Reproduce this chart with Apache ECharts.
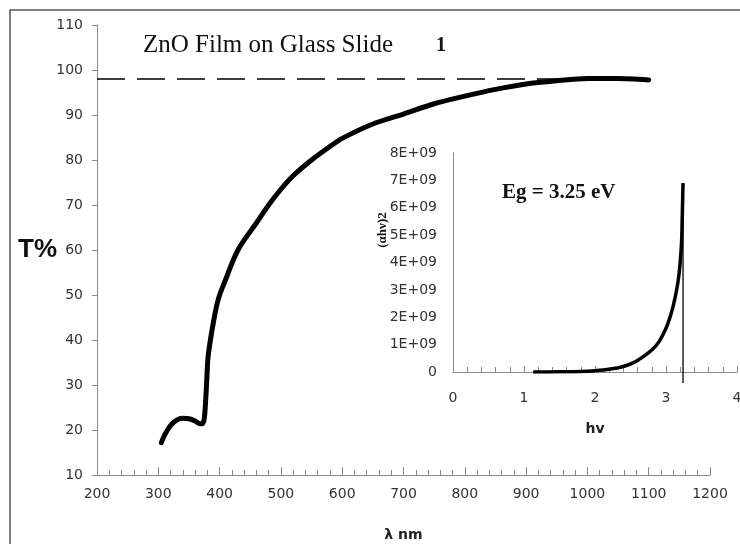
<!DOCTYPE html>
<html><head><meta charset="utf-8">
<script src="https://cdn.jsdelivr.net/npm/echarts@6/dist/echarts.min.js"></script>
<style>html,body{margin:0;padding:0;background:#fff}#c{width:740px;height:544px}</style>
</head><body><div id="c"></div>
<script>
// Main spectrum: wavelength (nm) vs transmittance (%)
const wavelength = [305,310,320,330,340,350,360,368,372,375,377,379,381,385,390,395,400,410,420,430,440,460,480,500,520,550,580,600,650,700,750,800,850,900,950,1000,1050,1100];
const transmittance = [17.2,18.8,21.0,22.2,22.6,22.5,22.0,21.4,21.4,22.5,26,31,36,40,44,47.5,50,53.5,57,60,62.2,66,70,73.5,76.5,80,83,84.8,88,90.2,92.5,94.2,95.7,96.9,97.6,98.1,98.1,97.8];
const dashedX = [200, 1100];
const dashedT = 98;
// Inset: photon energy (eV) vs (alpha h nu)^2
const photonEnergy = [1.13,1.5,1.8,2.0,2.2,2.4,2.55,2.7,2.8,2.9,3.0,3.05,3.1,3.15,3.18,3.2,3.22,3.23,3.24];
const alphaHvSq = [0,0.005e9,0.02e9,0.05e9,0.1e9,0.2e9,0.35e9,0.6e9,0.8e9,1.1e9,1.6e9,1.95e9,2.4e9,3.0e9,3.5e9,4.0e9,4.8e9,5.8e9,6.9e9];
const egValue = 3.24;
const egLineY = [-0.4e9, 6.9e9];
// Axis ranges
const mainX = {min:200, max:1200, interval:100};
const mainY = {min:10, max:110, interval:10};
const insetX = {min:0, max:4, interval:1};
const insetY = {min:0, max:8e9, interval:1e9};

const chart = echarts.init(document.getElementById('c'), null, {renderer:'canvas'});
const labelStyle = {color:'#333', fontSize:14, fontFamily:'DejaVu Sans'};
const axisLine = {lineStyle:{color:'#8a8a8a', width:1}};
chart.setOption({
  animation:false,
  backgroundColor:'#fff',
  grid:[
    {left:97, right:30, top:25, bottom:69, outerBoundsMode:'none', containLabel:false},
    {left:453, right:3, top:153, bottom:172, outerBoundsMode:'none', containLabel:false}
  ],
  xAxis:[
    {gridIndex:0, type:'value', min:mainX.min, max:mainX.max, interval:mainX.interval,
     axisLine:axisLine, splitLine:{show:false},
     axisTick:{inside:true, length:8, lineStyle:{color:'#8a8a8a'}},
     minorTick:{show:true, splitNumber:5, length:5, lineStyle:{color:'#8a8a8a'}},
     axisLabel:Object.assign({margin:12, formatter:v => String(v)}, labelStyle),
     name:'λ nm', nameLocation:'middle', nameGap:53, nameMoveOverlap:false,
     nameTextStyle:{fontSize:14, fontWeight:'bold', color:'#222', fontFamily:'DejaVu Sans'}},
    {gridIndex:1, type:'value', min:insetX.min, max:insetX.max, interval:insetX.interval,
     axisLine:axisLine, splitLine:{show:false},
     axisTick:{inside:true, length:6, lineStyle:{color:'#8a8a8a'}},
     minorTick:{show:true, splitNumber:5, length:5, lineStyle:{color:'#8a8a8a'}},
     axisLabel:Object.assign({margin:19, formatter:v => String(v)}, labelStyle),
     name:'hv', nameLocation:'middle', nameGap:50, nameMoveOverlap:false,
     nameTextStyle:{fontSize:14, fontWeight:'bold', color:'#222', fontFamily:'DejaVu Sans'}}
  ],
  yAxis:[
    {gridIndex:0, type:'value', min:mainY.min, max:mainY.max, interval:mainY.interval,
     axisLine:Object.assign({show:true}, axisLine), splitLine:{show:false},
     axisTick:{show:true, length:5, lineStyle:{color:'#8a8a8a'}},
     axisLabel:Object.assign({margin:14}, labelStyle),
     name:'T%', nameLocation:'middle', nameRotate:0, nameGap:40, nameMoveOverlap:false,
     nameTextStyle:{fontSize:26, fontWeight:'bold', color:'#111', fontFamily:'Liberation Sans', align:'right', verticalAlign:'middle'}},
    {gridIndex:1, type:'value', min:insetY.min, max:insetY.max, interval:insetY.interval,
     axisLine:Object.assign({show:true}, axisLine), splitLine:{show:false},
     axisTick:{show:false},
     axisLabel:Object.assign({margin:16, formatter:v => v===0 ? '0' : Math.round(v/1e9)+'E+09'}, labelStyle)}
  ],
  series:[
    {type:'line', xAxisIndex:0, yAxisIndex:0, data:dashedX.map(x=>[x,dashedT]),
     symbol:'none', lineStyle:{color:'#000', width:1.5, type:[28,12]}, z:1},
    {type:'line', xAxisIndex:0, yAxisIndex:0, data:wavelength.map((x,i)=>[x,transmittance[i]]),
     symbol:'none', smooth:0.25, lineStyle:{color:'#000', width:5, cap:'round', join:'round'}, z:2},
    {type:'line', xAxisIndex:1, yAxisIndex:1, data:photonEnergy.map((x,i)=>[x,alphaHvSq[i]]),
     symbol:'none', smooth:0.25, lineStyle:{color:'#000', width:3.5, join:'round'}, z:2},
    {type:'line', xAxisIndex:1, yAxisIndex:1, data:egLineY.map(y=>[egValue,y]), clip:false,
     symbol:'none', lineStyle:{color:'#000', width:1.3}, z:3}
  ],
  graphic:[
    {type:'rect', shape:{x:10, y:10, width:740, height:545}, style:{fill:null, stroke:'#555', lineWidth:1.5}, silent:true},
    {type:'text', x:143, y:45, style:{text:'ZnO Film on Glass Slide', font:'25px "Liberation Serif"', fill:'#111', verticalAlign:'middle'}},
    {type:'text', x:441, y:46, style:{text:'1', font:'bold 20px "Liberation Serif"', fill:'#111', align:'center', verticalAlign:'middle'}},
    {type:'text', x:502, y:193, style:{text:'Eg = 3.25 eV', font:'bold 21px "Liberation Serif"', fill:'#111', verticalAlign:'middle'}},
    {type:'text', x:383, y:230, rotation:Math.PI/2, style:{text:'(αhν)2', font:'bold 13px "Liberation Serif"', fill:'#111', align:'center', verticalAlign:'middle'}}
  ]
});
</script></body></html>
